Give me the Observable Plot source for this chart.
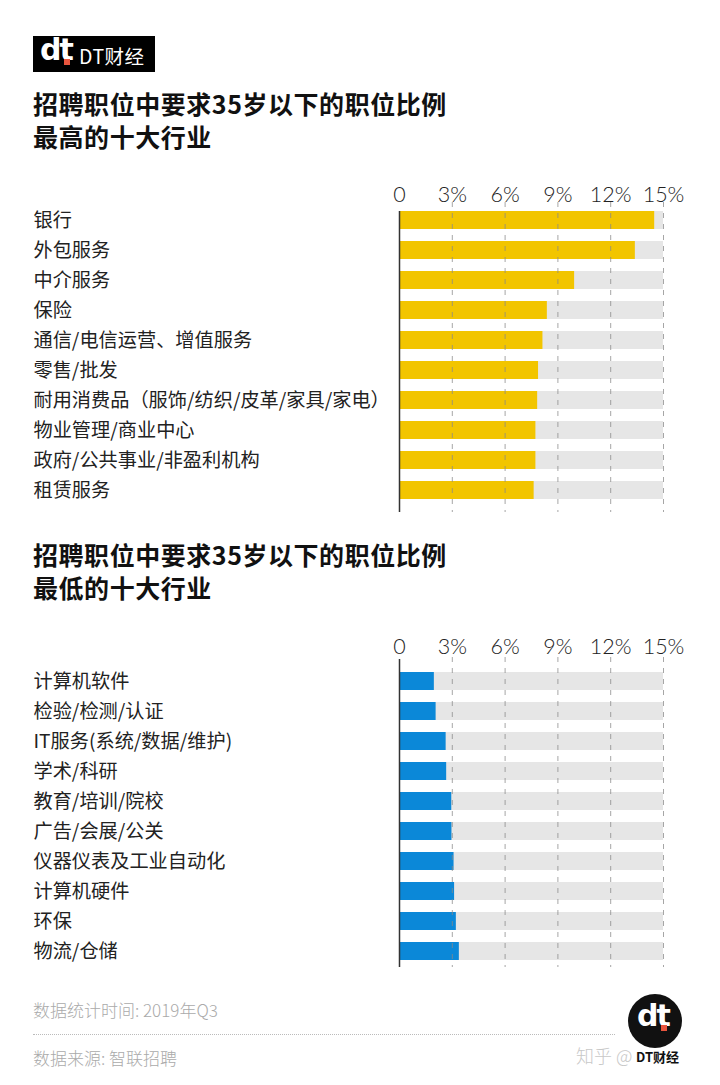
<!DOCTYPE html>
<html>
<head>
<meta charset="utf-8">
<script src="https://cdn.jsdelivr.net/npm/d3@7"></script>
<script src="https://cdn.jsdelivr.net/npm/@observablehq/plot@0.6"></script>
<style>
  html, body { margin: 0; padding: 0; background: #fff; }
  #root { position: relative; width: 720px; height: 1085px; overflow: hidden; font-family: "Noto Sans CJK SC", "Noto Sans", sans-serif; }
  .abs { position: absolute; }
  .title { left: 33px; font-size: 25px; font-weight: bold; color: #111; line-height: 26px; letter-spacing: 0.55px; white-space: nowrap; }
  .foot { left: 33px; font-size: 17px; color: #aaa; font-weight: 300; }
  #logo { left: 33px; top: 36px; width: 122px; height: 36px; background: #000; }
  #logo .dt { position: absolute; left: 7px; top: -4px; font-family: "DejaVu Sans", sans-serif; font-weight: 900; font-size: 30px; color: #fff; letter-spacing: -2px; }
  #logo .sq { position: absolute; left: 31px; top: 23px; width: 6px; height: 6px; background: #e8553e; }
  #logo .txt { position: absolute; left: 46px; top: 5px; font-size: 19.5px; color: #fff; letter-spacing: 0.5px; font-family: "Noto Sans CJK SC", sans-serif; }
  #circ { left: 628px; top: 994px; width: 54px; height: 54px; border-radius: 50%; background: #111; }
  #circ .dt { position: absolute; left: 9px; top: 4px; font-family: "DejaVu Sans", sans-serif; font-weight: 900; font-size: 30px; color: #fff; letter-spacing: -2px; }
  #circ .sq { position: absolute; left: 33px; top: 31px; width: 6px; height: 6px; background: #e8553e; }
  .plot { position: absolute; left: 0; }
</style>
</head>
<body>
<div id="root">
  <div id="logo" class="abs"><span class="dt">dt</span><span class="sq"></span><span class="txt">DT财经</span></div>
  <div class="abs title" style="top:90px;">招聘职位中要求35岁以下的职位比例</div>
  <div class="abs title" style="top:123px;">最高的十大行业</div>
  <div class="abs title" style="top:541px;">招聘职位中要求35岁以下的职位比例</div>
  <div class="abs title" style="top:574px;">最低的十大行业</div>
  <div id="p1" class="plot" style="top:150px;"></div>
  <div id="p2" class="plot" style="top:605px;"></div>
  <div class="abs foot" style="top:997px;">数据统计时间: 2019年Q3</div>
  <div class="abs" style="left:33px; top:1034px; width:582px; border-top:1px dotted #bbb;"></div>
  <div class="abs foot" style="top:1045px;">数据来源: 智联招聘</div>
  <div class="abs foot" style="left:576px; top:1042px; font-size:18px; color:#c8c8c8;">知乎 @</div>
  <div id="circ" class="abs"><span class="dt">dt</span><span class="sq"></span></div>
  <div class="abs" style="left:636px; top:1047px; font-size:13px; color:#111; font-weight:bold;">DT财经</div>
</div>
<script>
const topNames = ["银行","外包服务","中介服务","保险","通信/电信运营、增值服务","零售/批发","耐用消费品（服饰/纺织/皮革/家具/家电）","物业管理/商业中心","政府/公共事业/非盈利机构","租赁服务"];
const topValues = [14.5, 13.4, 9.95, 8.4, 8.15, 7.9, 7.85, 7.75, 7.75, 7.65];
const bottomNames = ["计算机软件","检验/检测/认证","IT服务(系统/数据/维护)","学术/科研","教育/培训/院校","广告/会展/公关","仪器仪表及工业自动化","计算机硬件","环保","物流/仓储"];
const bottomValues = [1.98, 2.08, 2.65, 2.68, 2.97, 2.98, 3.1, 3.13, 3.23, 3.4];
const xTicks = [0, 3, 6, 9, 12, 15];
const gridTicks = [3, 6, 9, 12, 15];
const xMax = 15;
const topColor = "#f2c500";
const bottomColor = "#0b88d8";

function panel(names, values, color, o) {
  const data = names.map((n, i) => ({name: n, value: values[i]}));
  return Plot.plot({
    width: 720,
    height: o.height,
    marginLeft: 399,
    marginRight: 57,
    marginTop: o.mt,
    marginBottom: o.mb,
    x: {domain: [0, xMax], axis: null},
    y: {domain: names, axis: null, paddingInner: 0.4, paddingOuter: 0.2},
    style: {fontFamily: "'Noto Sans CJK SC', sans-serif", background: "transparent", overflow: "visible"},
    marks: [
      Plot.barX(data, {y: "name", x1: 0, x2: xMax, fill: "#e6e6e6"}),
      Plot.barX(data, {y: "name", x: "value", fill: color}),
      Plot.ruleX(gridTicks, {stroke: "#888", strokeDasharray: "5,6", strokeOpacity: 0.75, insetTop: o.gTop, insetBottom: o.gBot}),
      Plot.ruleX([0], {stroke: "#333", strokeWidth: 1.5, insetTop: o.aTop, insetBottom: o.aBot}),
      Plot.axisX({anchor: "top", ticks: xTicks, tickFormat: d => d === 0 ? "0" : d + "%", tickSize: 0, tickPadding: o.tp, fontSize: 21.5, fontFamily: "Lato, 'DejaVu Sans', sans-serif", fontWeight: 300, fill: "#222", label: null}),
      Plot.text(data, {x: 0, y: "name", text: "name", textAnchor: "start", dx: -366, fontSize: 19.2, fill: "#222"})
    ]
  });
}

document.getElementById("p1").appendChild(panel(topNames, topValues, topColor, {height: 370, mt: 55, mb: 15, gTop: -3, gBot: -7, aTop: 6, aBot: -7, tp: 4}));
document.getElementById("p2").appendChild(panel(bottomNames, bottomValues, bottomColor, {height: 380, mt: 61, mb: 19, gTop: -9, gBot: -1, aTop: -7, aBot: -1, tp: 13}));
</script>
</body>
</html>
